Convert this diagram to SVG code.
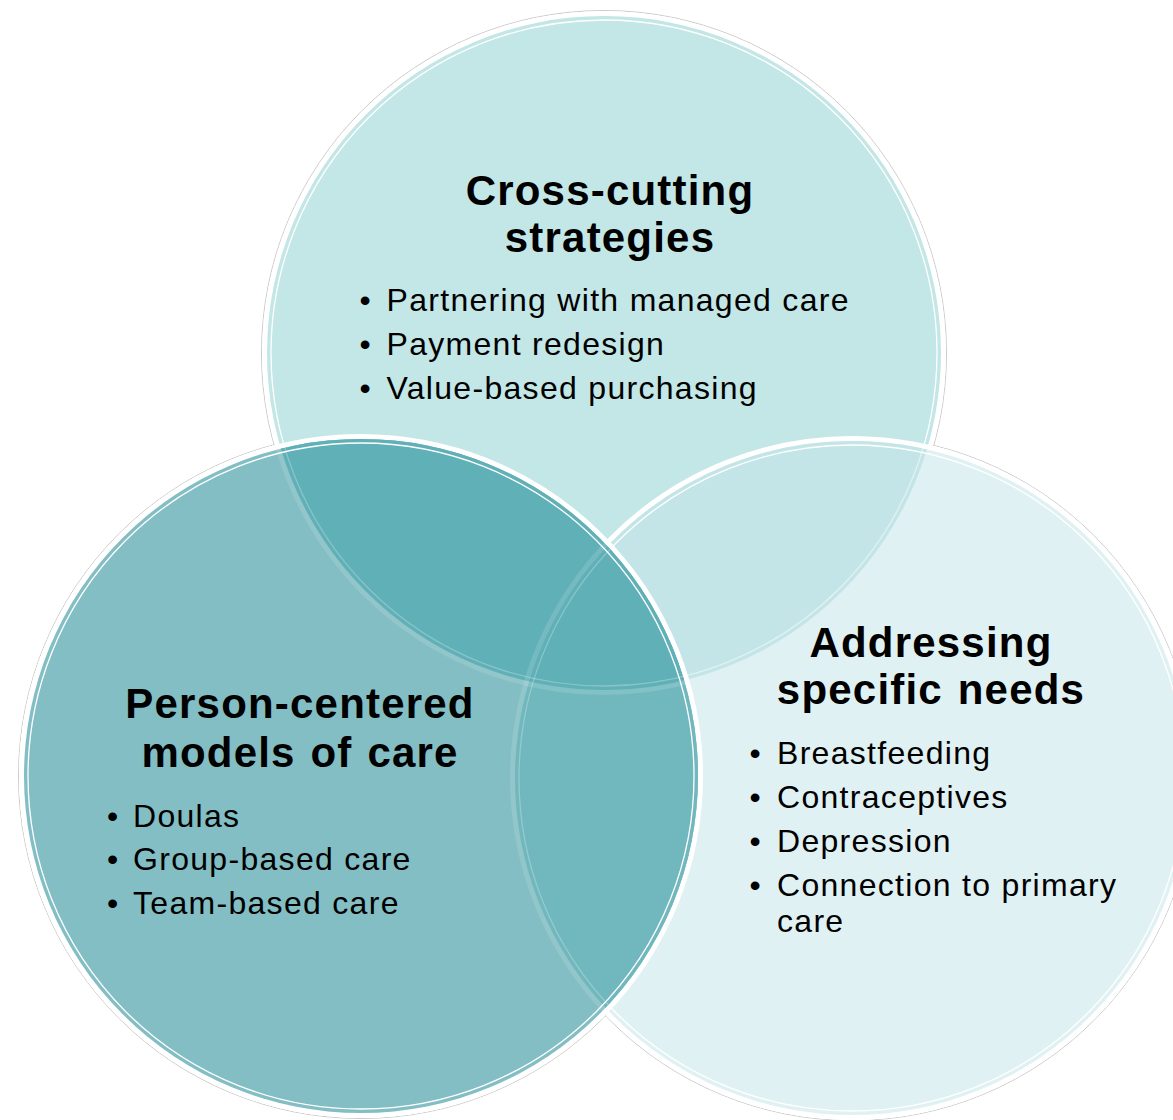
<svg xmlns="http://www.w3.org/2000/svg" width="1173" height="1120" viewBox="0 0 1173 1120">
  <style>
    .title { font-family: "Liberation Sans", Arial, sans-serif; font-weight: bold; font-size: 42px; letter-spacing: 1.2px; fill: #000; text-anchor: middle; }
    .item { font-family: "Liberation Sans", Arial, sans-serif; font-size: 32px; letter-spacing: 1.3px; fill: #000; }
    .halo { fill: none; stroke: #bdbdbd; stroke-width: 0.8; }
    .band { fill: none; stroke: #ffffff; stroke-width: 5; }
    .ring { fill: none; stroke: #ffffff; stroke-width: 1.3; }
    .faint-ring { fill: none; stroke: #ffffff; stroke-width: 1.3; stroke-opacity: 0.25; }
    .faint-band { fill: none; stroke: #ffffff; stroke-width: 5; stroke-opacity: 0.13; }
  </style>
  <defs>
    <clipPath id="clip-left"><circle cx="361" cy="776" r="337"/></clipPath>
  </defs>
  <rect width="1173" height="1120" fill="#ffffff"/>

  <g id="backdrop">
    <circle class="halo" cx="604" cy="353" r="342.5"/>
    <circle class="halo" cx="852" cy="778" r="342.5"/>
    <circle class="halo" cx="361" cy="776" r="342.5"/>
    <circle cx="604" cy="353" r="342" fill="#ffffff"/>
    <circle cx="852" cy="778" r="342" fill="#ffffff"/>
    <circle cx="361" cy="776" r="342" fill="#ffffff"/>
  </g>

  <g id="node-cross-cutting">
    <circle cx="604" cy="353" r="337" fill="#c3e6e6"/>
    <circle class="ring" cx="604" cy="353" r="333"/>
    <text class="title" x="610" y="205">Cross-cutting</text>
    <text class="title" x="610" y="252">strategies</text>
    <text class="item" x="359.5" y="311">•</text>
    <text class="item" x="386.5" y="311">Partnering with managed care</text>
    <text class="item" x="359.5" y="355">•</text>
    <text class="item" x="386.5" y="355">Payment redesign</text>
    <text class="item" x="359.5" y="399">•</text>
    <text class="item" x="386.5" y="399">Value-based purchasing</text>
  </g>

  <g id="node-specific-needs">
    <circle class="band" cx="852" cy="778" r="339.5"/>
    <circle cx="852" cy="778" r="337" fill="rgb(195,228,232)" fill-opacity="0.52"/>
    <circle class="ring" cx="852" cy="778" r="333"/>
    <text class="title" x="931" y="657">Addressing</text>
    <text class="title" x="931" y="704" word-spacing="2">specific needs</text>
    <text class="item" x="749.5" y="764">•</text>
    <text class="item" x="777" y="764">Breastfeeding</text>
    <text class="item" x="749.5" y="808">•</text>
    <text class="item" x="777" y="808">Contraceptives</text>
    <text class="item" x="749.5" y="852">•</text>
    <text class="item" x="777" y="852">Depression</text>
    <text class="item" x="749.5" y="896">•</text>
    <text class="item" x="777" y="896">Connection to primary</text>
    <text class="item" x="777" y="932">care</text>
  </g>

  <g id="node-person-centered">
    <circle class="band" cx="361" cy="776" r="339.5"/>
    <circle cx="361" cy="776" r="337" fill="#82bec3"/>
    <g clip-path="url(#clip-left)">
      <circle cx="852" cy="778" r="337" fill="#70b8bd"/>
      <circle cx="604" cy="353" r="337" fill="#60b0b7"/>
      <circle class="faint-band" cx="852" cy="778" r="339.5"/>
      <circle class="faint-ring" cx="852" cy="778" r="333"/>
      <circle class="faint-band" cx="604" cy="353" r="339.5"/>
      <circle class="faint-ring" cx="604" cy="353" r="333"/>
    </g>
    <circle class="ring" cx="361" cy="776" r="333"/>
    <text class="title" x="300" y="718">Person-centered</text>
    <text class="title" x="300" y="767" word-spacing="2">models of care</text>
    <text class="item" x="107" y="827">•</text>
    <text class="item" x="133" y="827">Doulas</text>
    <text class="item" x="107" y="870">•</text>
    <text class="item" x="133" y="870">Group-based care</text>
    <text class="item" x="107" y="914">•</text>
    <text class="item" x="133" y="914">Team-based care</text>
  </g>

  <g id="connectors"></g>
</svg>
